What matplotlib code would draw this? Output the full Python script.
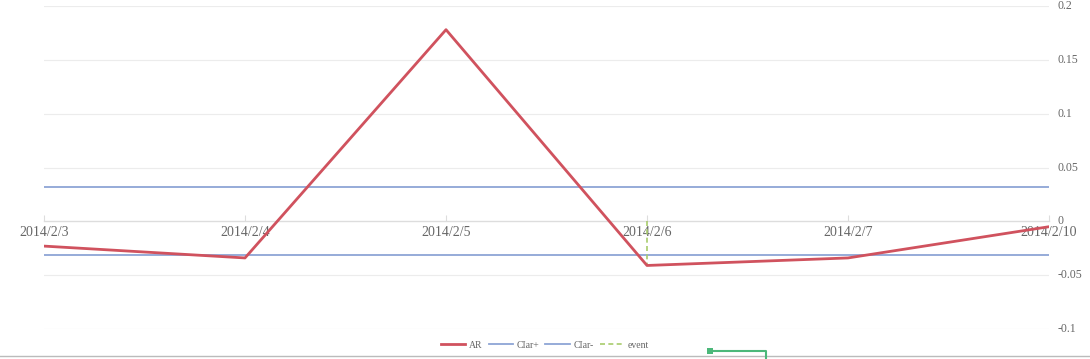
import matplotlib
matplotlib.use("Agg")
import matplotlib.pyplot as plt
from matplotlib.lines import Line2D
from matplotlib.patches import Rectangle

dates = ["2014/2/3", "2014/2/4", "2014/2/5", "2014/2/6", "2014/2/7", "2014/2/10"]
ar = [-0.023, -0.034, 0.178, -0.041, -0.034, -0.005]
ci_up = [0.032] * len(dates)
ci_low = [-0.031] * len(dates)
event_date = "2014/2/6"
y_ticks = [-0.1, -0.05, 0, 0.05, 0.1, 0.15, 0.2]
y_labels = ["-0.1", "-0.05", "0", "0.05", "0.1", "0.15", "0.2"]

red = "#d0525e"
blue = "#8ea5d5"
green = "#a8cc6c"
grey_txt = "#666666"

plt.rcParams["font.family"] = ["Liberation Serif", "DejaVu Serif"]

fig = plt.figure(figsize=(10.9, 3.59), dpi=100)
ax = fig.add_axes([44 / 1090, 1 - 329 / 359, (1049 - 44) / 1090, (329 - 6) / 359])

xs = list(range(len(dates)))
for yv in y_ticks:
    if yv != 0:
        ax.axhline(yv, color="#ececec", lw=0.8, zorder=0)

ax.plot(xs, ci_up, color=blue, lw=1.3, zorder=2)
ax.plot(xs, ci_low, color=blue, lw=1.3, zorder=2)
ei = dates.index(event_date)
ax.plot([ei, ei], [0, ar[ei]], color=green, lw=1.2, ls=(0, (3, 2)), zorder=3)
ax.plot(xs, ar, color=red, lw=2, zorder=4)

ax.set_xlim(0, len(dates) - 1)
ax.set_ylim(-0.1, 0.2)
ax.set_xticks(xs)
ax.set_xticklabels(dates)
ax.set_yticks(y_ticks)
ax.set_yticklabels(y_labels)

for s in ["top", "left", "right"]:
    ax.spines[s].set_visible(False)
ax.spines["bottom"].set_position(("data", 0))
ax.spines["bottom"].set_color("#dddddd")
ax.spines["bottom"].set_linewidth(1)
ax.tick_params(axis="x", direction="in", length=4, color="#dddddd",
               labelsize=10, labelcolor=grey_txt, pad=3)
ax.yaxis.tick_right()
ax.tick_params(axis="y", length=0, labelsize=8.5, labelcolor=grey_txt, pad=6)
for lab in ax.get_yticklabels():
    lab.set_verticalalignment("center")

handles = [
    Line2D([], [], color=red, lw=2),
    Line2D([], [], color=blue, lw=1.3),
    Line2D([], [], color=blue, lw=1.3),
    Line2D([], [], color=green, lw=1.2, ls=(0, (3, 2))),
]
fig.legend(handles, ["AR", "CIar+", "CIar-", "event"], loc="center",
           bbox_to_anchor=(545 / 1090, 1 - 345 / 359), ncol=4, frameon=False,
           fontsize=7, labelcolor=grey_txt, handlelength=2.5,
           handletextpad=0.4, columnspacing=0.6)

# bottom border and slider handle fragment
fig.add_artist(Line2D([0, 1], [1 - 356 / 359] * 2, color="#bbbbbb", lw=1))
fig.add_artist(Rectangle((707 / 1090, 1 - 354 / 359), 6 / 1090, 6 / 359,
                         color="#4cb87a", lw=0))
fig.add_artist(Line2D([713 / 1090, 766 / 1090, 766 / 1090],
                      [1 - 351 / 359, 1 - 351 / 359, 0], color="#4cb87a", lw=1.5))

fig.savefig("out.png", dpi=100)
